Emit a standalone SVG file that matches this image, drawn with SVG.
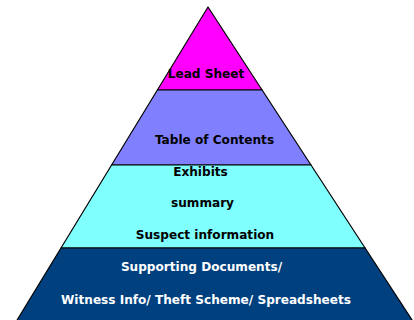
<svg xmlns="http://www.w3.org/2000/svg" width="414" height="320" viewBox="0 0 414 320">
<style>
.band{stroke:#000;stroke-width:1.2;stroke-linejoin:round}
.t{font-family:"DejaVu Sans",Verdana,sans-serif;font-weight:bold;font-size:12.1px;text-anchor:middle;fill:#000}
.w{fill:#fff}
</style>
<rect width="414" height="320" fill="#fff"/>
<g id="connectors"></g>
<g id="lead-sheet">
<polygon class="band" fill="#FF00FF" points="208,7 262.1,90 157.4,90"/>
<text class="t" x="206" y="77.5">Lead Sheet</text>
</g>
<g id="table-of-contents">
<polygon class="band" fill="#8080FF" points="157.4,90 262.1,90 311,165 111.6,165"/>
<text class="t" x="214.5" y="143.5">Table of Contents</text>
</g>
<g id="exhibits">
<polygon class="band" fill="#80FFFF" points="111.6,165 311,165 365.1,248 61,248"/>
<text class="t" x="200.5" y="175.5">Exhibits</text>
<text class="t" x="202.5" y="206.5">summary</text>
<text class="t" x="205" y="238.5">Suspect information</text>
</g>
<g id="supporting">
<polygon class="band" fill="#00407F" points="61,248 365.1,248 413.4,322 15.9,322"/>
<text class="t w" x="201.5" y="270.5">Supporting Documents/</text>
<text class="t w" x="206" y="303.5">Witness Info/ Theft Scheme/ Spreadsheets</text>
</g>
</svg>
